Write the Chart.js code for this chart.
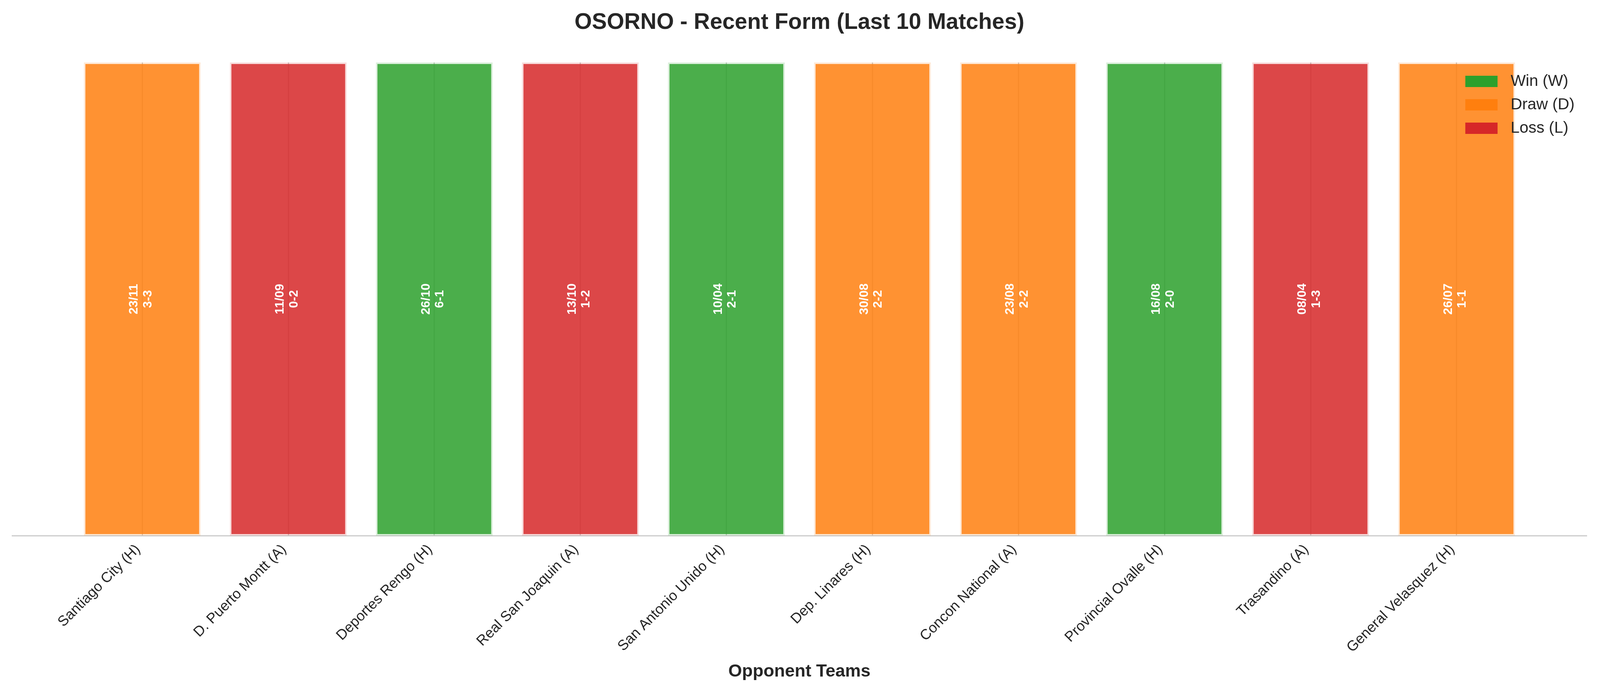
<!DOCTYPE html>
<html>
<head>
<meta charset="utf-8">
<script src="https://cdn.jsdelivr.net/npm/chart.js@4.4.1/dist/chart.umd.min.js"></script>
<style>
  html, body { margin: 0; padding: 0; background: #ffffff; overflow: hidden; }
  #wrap { position: relative; width: 100vw; height: 100vh; }
</style>
</head>
<body>
<div id="wrap"><canvas id="c"></canvas></div>
<script>
// ---- data ----
const teams = ['Santiago City (H)', 'D. Puerto Montt (A)', 'Deportes Rengo (H)', 'Real San Joaquin (A)',
  'San Antonio Unido (H)', 'Dep. Linares (H)', 'Concon National (A)', 'Provincial Ovalle (H)',
  'Trasandino (A)', 'General Velasquez (H)'];
const matchDates = ['23/11', '11/09', '26/10', '13/10', '10/04', '30/08', '23/08', '16/08', '08/04', '26/07'];
const scores = ['3-3', '0-2', '6-1', '1-2', '2-1', '2-2', '2-2', '2-0', '1-3', '1-1'];
const results = ['D', 'L', 'W', 'L', 'W', 'D', 'D', 'W', 'L', 'D'];
const formValues = [1, 1, 1, 1, 1, 1, 1, 1, 1, 1];
const legendKeys = ['W', 'D', 'L'];
const legendLabels = ['Win (W)', 'Draw (D)', 'Loss (L)'];

// ---- styles ----
const RESULT_RGB = { W: [44, 160, 44], D: [255, 127, 14], L: [214, 39, 40] };
const rgba = (c, a) => `rgba(${c[0]},${c[1]},${c[2]},${a})`;
const FONT = "'Liberation Sans', Arial, Helvetica, sans-serif";
const TEXT = '#262626';

// scale design sizes (drawn for a 4170x1770 figure) to the actual viewport
const sx = window.innerWidth / 4170;
const sy = window.innerHeight / 1770;
const sf = Math.min(sx, sy);
const X = v => v * sx, Y = v => v * sy, F = v => v * sf;

Chart.defaults.font.family = FONT;
Chart.defaults.color = TEXT;

const barLabels = {
  id: 'barLabels',
  afterDatasetsDraw(chart) {
    const ctx = chart.ctx;
    const meta = chart.getDatasetMeta(0);
    ctx.save();
    ctx.fillStyle = '#ffffff';
    ctx.font = `bold ${F(32.5)}px ${FONT}`;
    ctx.textAlign = 'center';
    ctx.textBaseline = 'middle';
    meta.data.forEach((el, i) => {
      const cx = el.x;
      const cy = (el.y + el.base) / 2;
      ctx.save();
      ctx.translate(cx, cy);
      ctx.rotate(-Math.PI / 2);
      ctx.fillText(matchDates[i], 0, X(-21));
      ctx.fillText(scores[i], 0, X(15));
      ctx.restore();
    });
    ctx.restore();
  }
};

const sideLegend = {
  id: 'sideLegend',
  afterDraw(chart) {
    const ctx = chart.ctx;
    const area = chart.chartArea;
    const x0 = area.right - X(316);
    const y0 = area.top + Y(34);
    ctx.save();
    ctx.font = `${F(41.7)}px ${FONT}`;
    ctx.textAlign = 'left';
    ctx.textBaseline = 'middle';
    legendKeys.forEach((k, i) => {
      const y = y0 + i * Y(60);
      ctx.fillStyle = rgba(RESULT_RGB[k], 1);
      ctx.fillRect(x0, y, X(84), Y(29));
      ctx.fillStyle = TEXT;
      ctx.fillText(legendLabels[i], x0 + X(118), y + Y(15));
    });
    ctx.restore();
  }
};

new Chart(document.getElementById('c'), {
  type: 'bar',
  data: {
    datasets: [{
      data: formValues.map((v, i) => ({ x: i, y: v })),
      backgroundColor: results.map(r => rgba(RESULT_RGB[r], 0.85)),
      borderColor: results.map(r => rgba(RESULT_RGB[r], 0.17)),
      borderWidth: F(4),
      borderSkipped: false,
      barPercentage: 0.8,
      categoryPercentage: 1.0
    }]
  },
  options: {
    responsive: true,
    maintainAspectRatio: false,
    animation: false,
    layout: { padding: { left: X(32), right: X(35), top: 0, bottom: 0 } },
    plugins: {
      legend: { display: false },
      tooltip: { enabled: false },
      title: {
        display: true,
        text: 'OSORNO - Recent Form (Last 10 Matches)',
        color: TEXT,
        font: { size: F(58.3), weight: 'bold', lineHeight: 1.2 },
        padding: { top: Y(24), bottom: Y(160 - 24) - F(58.3) * 1.2 }
      }
    },
    scales: {
      x: {
        type: 'linear',
        min: -0.89,
        max: 9.89,
        offset: false,
        ticks: {
          stepSize: 1,
          includeBounds: false,
          autoSkip: false,
          minRotation: 45,
          maxRotation: 45,
          padding: Y(14),
          labelOffset: X(-11),
          color: TEXT,
          font: { size: F(37.5) },
          callback: v => (Number.isInteger(v) && v >= 0 && v < teams.length) ? teams[v] : ''
        },
        grid: { color: '#cccccc', lineWidth: F(3), drawTicks: false, offset: false },
        border: { display: true, color: '#cccccc', width: F(3) },
        title: {
          display: true,
          text: 'Opponent Teams',
          color: TEXT,
          font: { size: F(45.8), weight: 'bold', lineHeight: 1.2 },
          padding: { top: 0, bottom: Y(22) }
        },
        afterFit: s => { s.height = Y(398); }
      },
      y: { display: false, min: 0, max: 1 }
    }
  },
  plugins: [barLabels, sideLegend]
});
</script>
</body>
</html>
